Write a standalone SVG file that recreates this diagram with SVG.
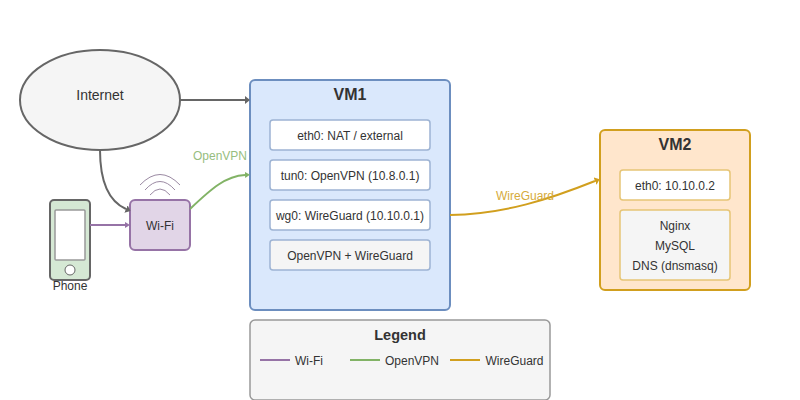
<svg xmlns="http://www.w3.org/2000/svg" width="800" height="400" viewBox="0 0 800 400">
<style>
text{font-family:"Liberation Sans",Arial,sans-serif;fill:#333;text-anchor:middle}
.s{font-size:12px}
.t{font-size:16px;font-weight:bold}
.c{fill:none;stroke-width:2}
.b1{fill:#fff;stroke:#9db3d3;stroke-width:1.5}
.g1{fill:#f5f5f5;stroke:#9db3d3;stroke-width:1.5}
.b2{fill:#fff;stroke:#e6c576;stroke-width:1.5}
.g2{fill:#f5f5f5;stroke:#e6c576;stroke-width:1.5}
</style>
<defs>
<marker id="ag" markerWidth="5" markerHeight="8" refX="0" refY="4" orient="auto" markerUnits="userSpaceOnUse"><path d="M0 0L5 4L0 8Z" fill="#666"/></marker>
<marker id="ap" markerWidth="5" markerHeight="6" refX="0" refY="3" orient="auto" markerUnits="userSpaceOnUse"><path d="M0 0L5 3L0 6Z" fill="#9673a6"/></marker>
<marker id="ao" markerWidth="5" markerHeight="6" refX="0" refY="3" orient="auto" markerUnits="userSpaceOnUse"><path d="M0 0L5 3L0 6Z" fill="#82b366"/></marker>
<marker id="aw" markerWidth="5" markerHeight="8" refX="0" refY="4" orient="auto" markerUnits="userSpaceOnUse"><path d="M0 0L5 4L0 8Z" fill="#d19f1e"/></marker>
</defs>
<g id="internet"><ellipse cx="100" cy="100" rx="80" ry="50" fill="#f5f5f5" stroke="#666" stroke-width="2"/><text x="100" y="100" font-size="14">Internet</text></g>
<g id="phone"><rect x="50" y="200" width="40" height="80" rx="4" fill="#d5e8d4" stroke="#666" stroke-width="2"/><rect x="55" y="210" width="30" height="50" rx="1" fill="#fff" stroke="#999" stroke-width="1.5"/><circle cx="70" cy="270" r="5" fill="#fff" stroke="#666"/><text class="s" x="70" y="290">Phone</text></g>
<g id="wifi"><rect x="130" y="200" width="60" height="50" rx="5" fill="#e1d5e7" stroke="#9673a6" stroke-width="2"/><text class="s" x="160" y="230">Wi-Fi</text>
<g fill="none" stroke="#9b8aa3" stroke-width="1"><path d="M150 195Q160 183 170 195"/><path d="M145 190Q160 173 175 190"/><path d="M140 185Q160 164 180 185"/></g></g>
<g id="vm1"><rect x="250" y="80" width="200" height="230" rx="5" fill="#dae8fc" stroke="#6c8ebf" stroke-width="2"/><text class="t" x="350" y="100">VM1</text>
<rect class="b1" x="270" y="120" width="160" height="30" rx="3"/><text class="s" x="350" y="140">eth0: NAT / external</text>
<rect class="b1" x="270" y="160" width="160" height="30" rx="3"/><text class="s" x="350" y="180">tun0: OpenVPN (10.8.0.1)</text>
<rect class="b1" x="270" y="200" width="160" height="30" rx="3"/><text class="s" x="350" y="220">wg0: WireGuard (10.10.0.1)</text>
<rect class="g1" x="270" y="240" width="160" height="30" rx="3"/><text class="s" x="350" y="260">OpenVPN + WireGuard</text></g>
<g id="vm2"><rect x="600" y="130" width="150" height="160" rx="5" fill="#ffe6cc" stroke="#d19f1e" stroke-width="2"/><text class="t" x="675" y="150">VM2</text>
<rect class="b2" x="620" y="170" width="110" height="30" rx="3"/><text class="s" x="675" y="190">eth0: 10.10.0.2</text>
<rect class="g2" x="620" y="210" width="110" height="70" rx="3"/><text class="s" x="675" y="230">Nginx</text><text class="s" x="675" y="250">MySQL</text><text class="s" x="675" y="270">DNS (dnsmasq)</text></g>
<g id="legend"><rect x="250" y="320" width="300" height="80" rx="5" fill="#f5f5f5" stroke="#999" stroke-width="1.5"/><text x="400" y="340" font-size="14.500" font-weight="bold">Legend</text>
<path class="c" d="M260 360H290" stroke="#9673a6"/><text class="s" x="309" y="365">Wi-Fi</text>
<path class="c" d="M350 360H380" stroke="#82b366"/><text class="s" x="412" y="365">OpenVPN</text>
<path class="c" d="M450 360H480" stroke="#d19f1e"/><text class="s" x="514.500" y="365">WireGuard</text></g>
<g id="connectors">
<path class="c" d="M180 100H245" stroke="#666" marker-end="url(#ag)"/>
<path class="c" d="M100 150C100 180 108 201 126 209" stroke="#666" marker-end="url(#ag)"/>
<path class="c" d="M90 225H125" stroke="#9673a6" marker-end="url(#ap)"/>
<path class="c" d="M190 209C212 188 226 176 245 175" stroke="#82b366" marker-end="url(#ao)"/>
<path class="c" d="M450 215C505 214 550 199 595 181" stroke="#d19f1e" marker-end="url(#aw)"/>
<text class="s" x="220" y="160" style="fill:#97bd80">OpenVPN</text>
<text class="s" x="525" y="200" style="fill:#d6ab3c">WireGuard</text>
</g>
</svg>
